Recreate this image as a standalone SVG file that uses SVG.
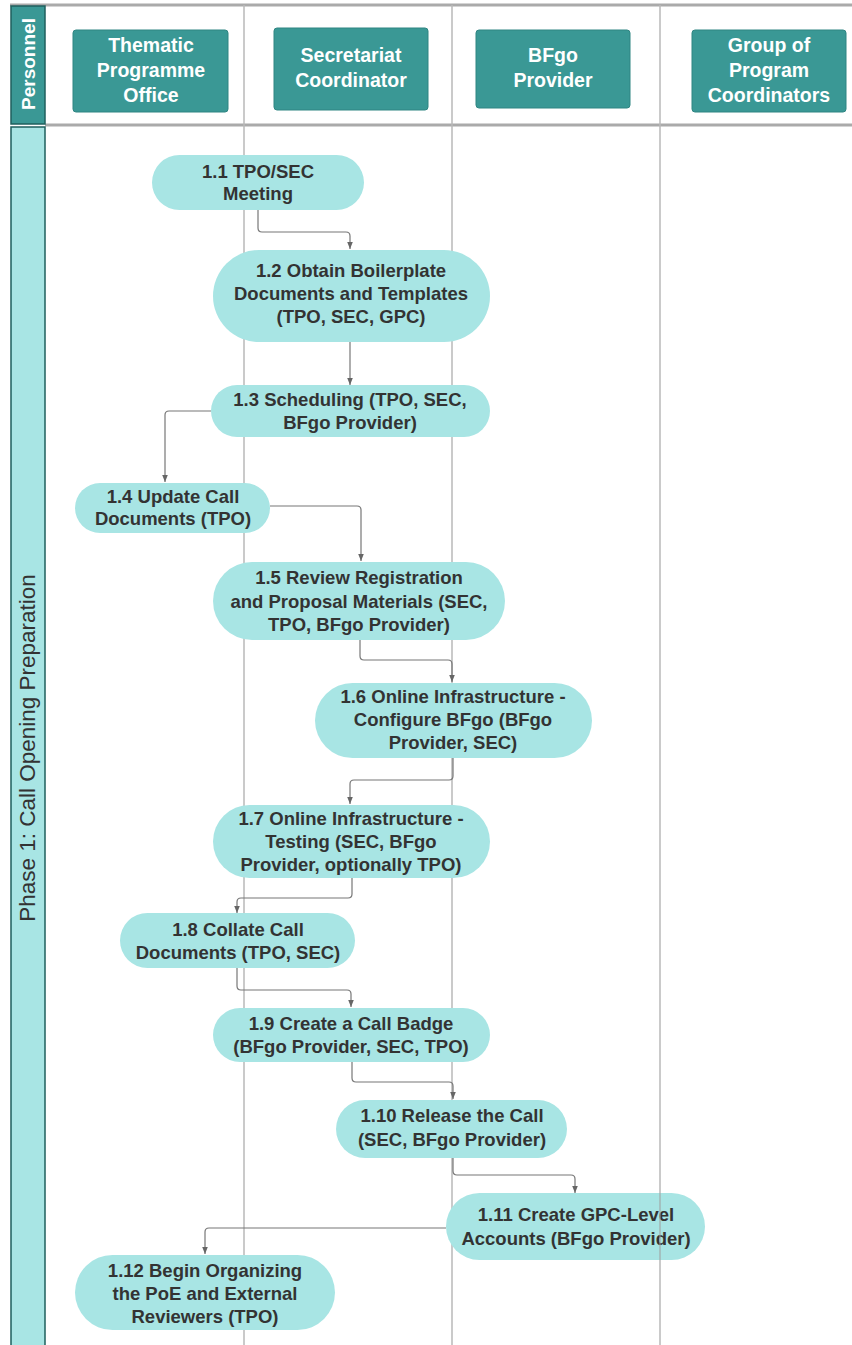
<svg xmlns="http://www.w3.org/2000/svg" width="852" height="1345" viewBox="0 0 852 1345">
<defs>
<marker id="arr" viewBox="0 0 10 10" refX="10" refY="5" markerWidth="7" markerHeight="7" orient="auto" markerUnits="userSpaceOnUse">
<path d="M0,1 L10,5 L0,9 Z" fill="#666"/>
</marker>
</defs>
<style>
.lane{stroke:#b8b8b8;stroke-width:1.5;fill:none}
.hdr{fill:#3a9895;stroke:#2f8582;stroke-width:1}
.hdrt{font-family:"Liberation Sans",Arial,sans-serif;font-weight:bold;font-size:19.5px;fill:#ffffff;text-anchor:middle}
.pers{font-family:"Liberation Sans",Arial,sans-serif;font-weight:bold;font-size:19px;fill:#ffffff;text-anchor:middle}
.node{fill:#a8e5e4;stroke:none}
.nt{font-family:"Liberation Sans",Arial,sans-serif;font-weight:bold;font-size:18.5px;fill:#333333;text-anchor:middle}
.conn{stroke:#777777;stroke-width:1.2;fill:none;marker-end:url(#arr)}
</style>
<rect width="852" height="1345" fill="#ffffff"/>
<g id="lanes">
<line x1="10" y1="5" x2="852" y2="5" stroke="#aaaaaa" stroke-width="3"/>
<line x1="45" y1="125" x2="852" y2="125" stroke="#aaaaaa" stroke-width="3"/>
<line class="lane" x1="244" y1="5" x2="244" y2="1345"/>
<line class="lane" x1="452" y1="5" x2="452" y2="1345"/>
<line class="lane" x1="660" y1="5" x2="660" y2="1345"/>
</g>
<g id="personnel">
<rect x="11" y="6" width="34" height="118" fill="#3a9895" stroke="#1f5f5d" stroke-width="1.5"/>
<text transform="translate(35 64) rotate(-90)" class="pers">Personnel</text>
</g>
<g id="phase">
<rect x="11" y="127" width="34" height="1220" fill="#a8e5e4" stroke="#1f5f5d" stroke-width="1.5"/>
<text transform="translate(35 748) rotate(-90)" font-family="Liberation Sans, Arial, sans-serif" font-size="22.5" fill="#333333" text-anchor="middle">Phase 1: Call Opening Preparation</text>
</g>
<g id="h-tpo">
<rect class="hdr" x="73" y="30" width="155" height="82" rx="3"/>
<text class="hdrt" x="151" y="52">Thematic</text>
<text class="hdrt" x="151" y="77">Programme</text>
<text class="hdrt" x="151" y="102">Office</text>
</g>
<g id="h-sec">
<rect class="hdr" x="274" y="28" width="154" height="82" rx="3"/>
<text class="hdrt" x="351" y="62">Secretariat</text>
<text class="hdrt" x="351" y="87">Coordinator</text>
</g>
<g id="h-bfgo">
<rect class="hdr" x="476" y="30" width="154" height="78" rx="3"/>
<text class="hdrt" x="553" y="62">BFgo</text>
<text class="hdrt" x="553" y="87">Provider</text>
</g>
<g id="h-gpc">
<rect class="hdr" x="692" y="30" width="154" height="82" rx="3"/>
<text class="hdrt" x="769" y="52">Group of</text>
<text class="hdrt" x="769" y="77">Program</text>
<text class="hdrt" x="769" y="102">Coordinators</text>
</g>
<g id="connectors">
<path class="conn" d="M258,210 V228 Q258,232 262,232 H346 Q350,232 350,236 V249"/>
<path class="conn" d="M350,342 V385"/>
<path class="conn" d="M211,411 H169 Q165,411 165,415 V482"/>
<path class="conn" d="M270,506 H357 Q361,506 361,510 V561"/>
<path class="conn" d="M360,640 V656 Q360,660 364,660 H448 Q452,660 452,664 V682"/>
<path class="conn" d="M453,758 V776 Q453,780 449,780 H354 Q350,780 350,784 V804"/>
<path class="conn" d="M352,878 V894 Q352,898 348,898 H241 Q237,898 237,902 V913"/>
<path class="conn" d="M237,968 V986 Q237,990 241,990 H347 Q351,990 351,994 V1007"/>
<path class="conn" d="M352,1062 V1078 Q352,1082 356,1082 H449 Q453,1082 453,1086 V1099"/>
<path class="conn" d="M453,1158 V1171 Q453,1175 457,1175 H571 Q575,1175 575,1179 V1193"/>
<path class="conn" d="M446,1228 H209 Q205,1228 205,1232 V1254"/>
</g>
<g id="n1-1">
<rect class="node" x="152" y="155" width="212" height="55" rx="27.5"/>
<text class="nt" x="258" y="178">1.1 TPO/SEC</text>
<text class="nt" x="258" y="200">Meeting</text>
</g>
<g id="n1-2">
<rect class="node" x="213" y="250" width="277" height="92" rx="46"/>
<text class="nt" x="351" y="277">1.2 Obtain Boilerplate</text>
<text class="nt" x="351" y="300">Documents and Templates</text>
<text class="nt" x="351" y="323">(TPO, SEC, GPC)</text>
</g>
<g id="n1-3">
<rect class="node" x="211" y="385" width="279" height="52" rx="26"/>
<text class="nt" x="350" y="406">1.3 Scheduling (TPO, SEC,</text>
<text class="nt" x="350" y="429">BFgo Provider)</text>
</g>
<g id="n1-4">
<rect class="node" x="75" y="483" width="195" height="50" rx="25"/>
<text class="nt" x="173" y="503">1.4 Update Call</text>
<text class="nt" x="173" y="525">Documents (TPO)</text>
</g>
<g id="n1-5">
<rect class="node" x="213" y="562" width="292" height="78" rx="39"/>
<text class="nt" x="359" y="584">1.5 Review Registration</text>
<text class="nt" x="359" y="608">and Proposal Materials (SEC,</text>
<text class="nt" x="359" y="631">TPO, BFgo Provider)</text>
</g>
<g id="n1-6">
<rect class="node" x="315" y="683" width="277" height="75" rx="37.5"/>
<text class="nt" x="453" y="703">1.6 Online Infrastructure -</text>
<text class="nt" x="453" y="726">Configure BFgo (BFgo</text>
<text class="nt" x="453" y="749">Provider, SEC)</text>
</g>
<g id="n1-7">
<rect class="node" x="213" y="805" width="277" height="73" rx="36.5"/>
<text class="nt" x="351" y="825">1.7 Online Infrastructure -</text>
<text class="nt" x="351" y="848">Testing (SEC, BFgo</text>
<text class="nt" x="351" y="871">Provider, optionally TPO)</text>
</g>
<g id="n1-8">
<rect class="node" x="120" y="913" width="235" height="55" rx="27.5"/>
<text class="nt" x="238" y="936">1.8 Collate Call</text>
<text class="nt" x="238" y="959">Documents (TPO, SEC)</text>
</g>
<g id="n1-9">
<rect class="node" x="213" y="1008" width="277" height="54" rx="27"/>
<text class="nt" x="351" y="1030">1.9 Create a Call Badge</text>
<text class="nt" x="351" y="1053">(BFgo Provider, SEC, TPO)</text>
</g>
<g id="n1-10">
<rect class="node" x="336" y="1100" width="231" height="58" rx="29"/>
<text class="nt" x="452" y="1122">1.10 Release the Call</text>
<text class="nt" x="452" y="1146">(SEC, BFgo Provider)</text>
</g>
<g id="n1-11">
<rect class="node" x="446" y="1193" width="259" height="67" rx="33.5"/>
<text class="nt" x="576" y="1221">1.11 Create GPC-Level</text>
<text class="nt" x="576" y="1245">Accounts (BFgo Provider)</text>
<line x1="660" y1="1193" x2="660" y2="1260" stroke="#a0a0a0" stroke-width="1.5" opacity="0.7"/>
</g>
<g id="n1-12">
<rect class="node" x="75" y="1255" width="260" height="75" rx="37.5"/>
<text class="nt" x="205" y="1277">1.12 Begin Organizing</text>
<text class="nt" x="205" y="1300">the PoE and External</text>
<text class="nt" x="205" y="1323">Reviewers (TPO)</text>
</g>
</svg>
